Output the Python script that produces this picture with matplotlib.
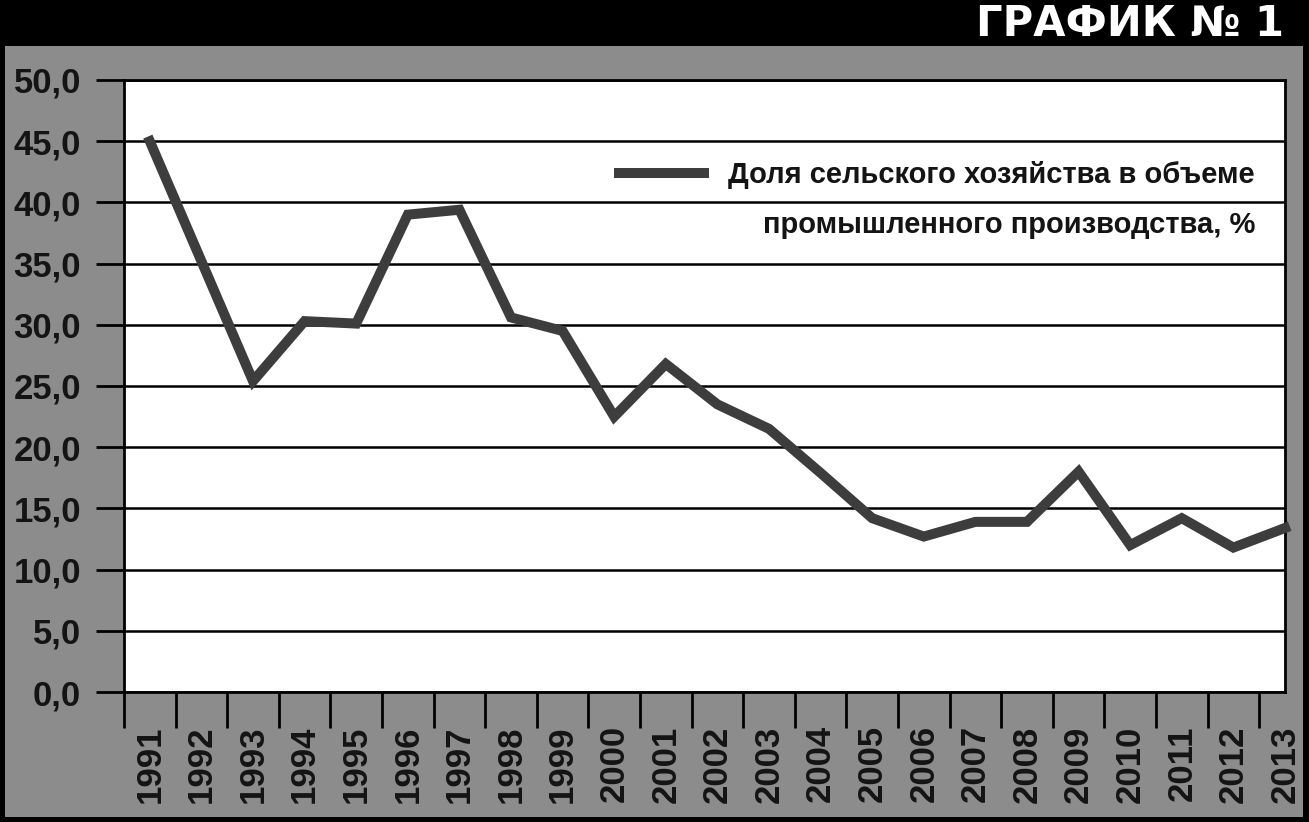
import matplotlib
matplotlib.use("Agg")
import matplotlib.pyplot as plt
from matplotlib.patches import Rectangle

# data
years = [str(y) for y in range(1991, 2014)]
share = [45.0, 35.2, 25.4, 30.3, 30.1, 39.0, 39.4, 30.6, 29.5, 22.5, 26.8, 23.5,
         21.5, 17.9, 14.2, 12.7, 13.9, 13.9, 18.0, 12.0, 14.2, 11.8, 13.4]
y_ticks = [0, 5, 10, 15, 20, 25, 30, 35, 40, 45, 50]
y_tick_labels = ["0,0", "5,0", "10,0", "15,0", "20,0", "25,0", "30,0",
                 "35,0", "40,0", "45,0", "50,0"]
title = "ГРАФИК № 1"
legend_line1 = "Доля сельского хозяйства в объеме"
legend_line2 = "промышленного производства, %"

W, H = 1309, 822
grey = "#8c8c8c"
line_col = "#3d3d3d"
text_col = "#141414"

plt.rcParams["font.family"] = ["Liberation Sans", "DejaVu Sans"]

fig = plt.figure(figsize=(W / 100, H / 100), dpi=100)
fig.patch.set_facecolor("black")

# grey panel inside the black frame, black title bar above
fig.add_artist(Rectangle((5 / W, 5 / H), (1303 - 5) / W, (822 - 46 - 5) / H,
                         transform=fig.transFigure, facecolor=grey,
                         edgecolor="none", zorder=0))

fig.text(1284 / W, 1 - 24 / H, title, color="white", fontsize=30,
         fontweight="heavy", family="DejaVu Sans", ha="right", va="center")

ax = fig.add_axes([124 / W, (H - 692) / H, (1285 - 124) / W, (692 - 80) / H])
ax.set_facecolor("white")

x = list(range(len(years)))
ax.plot(x, share, color=line_col, linewidth=7.2, solid_joinstyle="miter",
        label=legend_line1, zorder=3, clip_on=False)

ax.set_xlim(-0.5, len(years) - 1)
ax.set_ylim(0, 50)

# y axis
ax.set_yticks(y_ticks)
ax.set_yticklabels(y_tick_labels, fontsize=25, fontweight="bold")
ax.tick_params(axis="y", length=20, width=2, color="black", pad=11,
               labelcolor=text_col)
ax.yaxis.grid(True, color="black", linewidth=1.8)
ax.set_axisbelow(True)

# x axis: labels at centres, tick marks at boundaries
ax.set_xticks(x)
ax.set_xticklabels(years, rotation=90, fontsize=25, fontweight="bold")
ax.tick_params(axis="x", which="major", length=0, pad=24,
               labelcolor=text_col)
ax.set_xticks([i - 0.5 for i in x], minor=True)
ax.tick_params(axis="x", which="minor", length=26, width=2, color="black")

for side in ["left", "bottom", "right", "top"]:
    ax.spines[side].set_linewidth(2)
    ax.spines[side].set_color("black")

# legend (first line with handle, second line right-aligned below)
x_right = (1255 - 124) / (1285 - 124)
ax.legend(loc="upper right", bbox_to_anchor=(x_right, (692 - 161) / 612),
          frameon=False, prop={"weight": "bold", "size": 21},
          handlelength=2.9, handletextpad=0.85, borderpad=0, borderaxespad=0,
          labelcolor=text_col)
ax.text(x_right, (692 - 225) / 612, legend_line2, transform=ax.transAxes,
        ha="right", va="center", fontsize=21, fontweight="bold", color=text_col)

fig.savefig("out.png", dpi=100, facecolor=fig.get_facecolor())
